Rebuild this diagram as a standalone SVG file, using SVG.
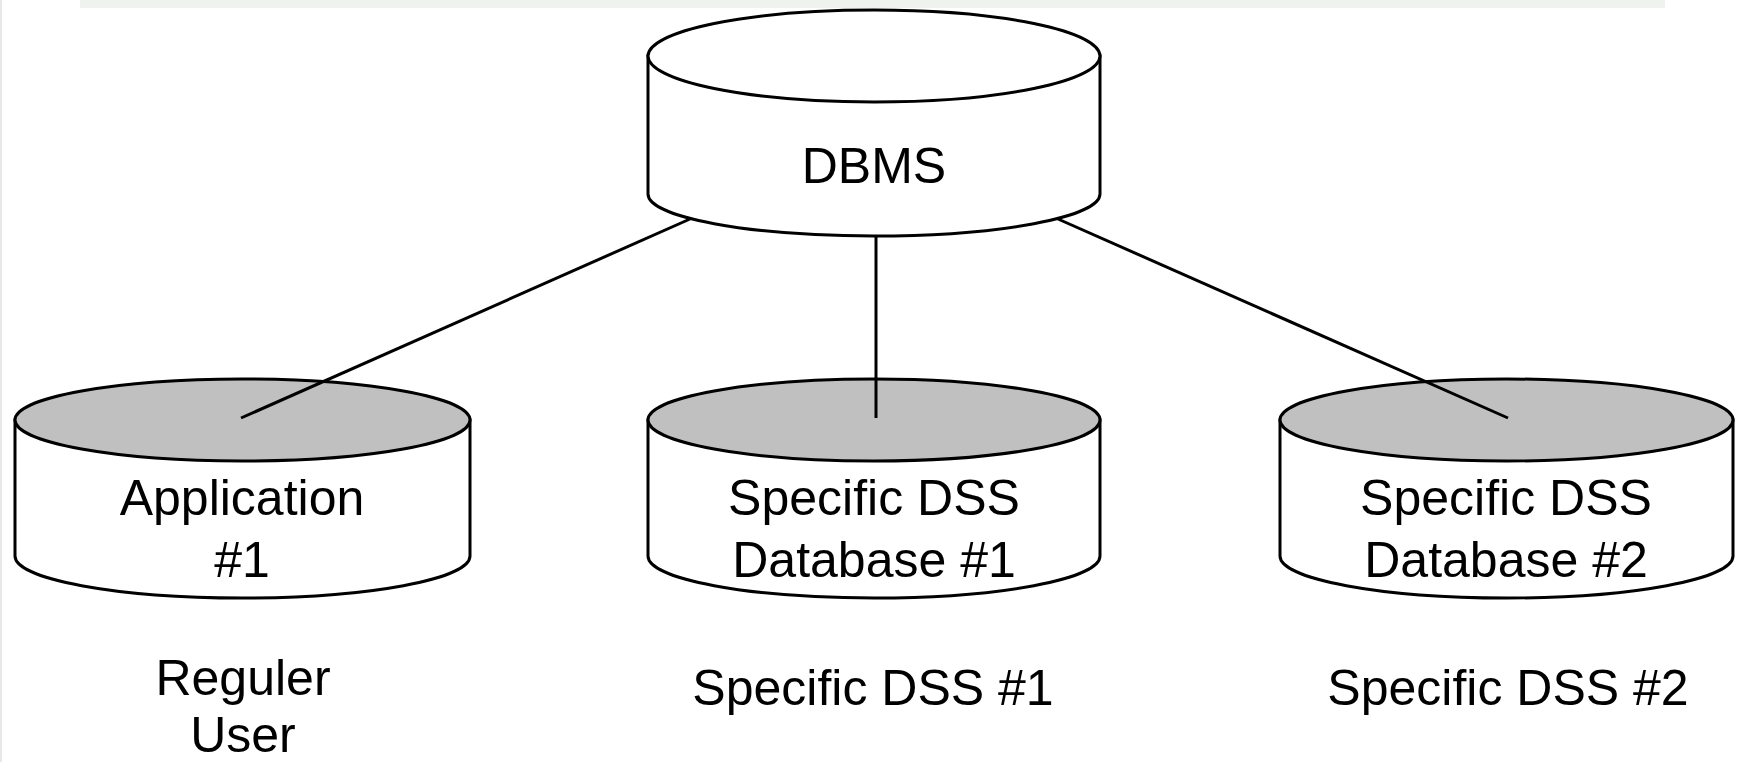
<svg xmlns="http://www.w3.org/2000/svg" width="1740" height="762" viewBox="0 0 1740 762">
<style>
.edge{stroke:#000;stroke-width:3;fill:none;stroke-linecap:butt}
.body{fill:#fff;stroke:#000;stroke-width:3}
.top-white{fill:#fff;stroke:#000;stroke-width:3}
.top-grey{fill:#c0c0c0;stroke:#000;stroke-width:3}
.lbl{font-family:"Liberation Sans",Arial,sans-serif;font-size:50px;fill:#000;text-anchor:middle}
</style>
<rect x="0" y="0" width="1740" height="762" fill="#fff"/>
<rect x="80" y="0" width="1585" height="8" fill="#eef3ee"/>
<rect x="0" y="0" width="2" height="762" fill="#e8e8e8"/>

<g id="dbms">
  <path class="body" d="M648,56 L648,194 A226,42 0 0 0 1100,194 L1100,56 Z"/>
  <ellipse class="top-white" cx="874" cy="56" rx="226" ry="46"/>
  <text class="lbl" x="874" y="183">DBMS</text>
</g>

<g id="app1">
  <path class="body" d="M15,420 L15,556 A227.5,42 0 0 0 470,556 L470,420 Z"/>
  <ellipse class="top-grey" cx="242.5" cy="420" rx="227.5" ry="41"/>
  <text class="lbl" x="242" y="515">Application</text>
  <text class="lbl" x="242" y="577">#1</text>
</g>

<g id="dssdb1">
  <path class="body" d="M648,420 L648,556 A226,42 0 0 0 1100,556 L1100,420 Z"/>
  <ellipse class="top-grey" cx="874" cy="420" rx="226" ry="41"/>
  <text class="lbl" x="874" y="515">Specific DSS</text>
  <text class="lbl" x="874" y="577">Database #1</text>
</g>

<g id="dssdb2">
  <path class="body" d="M1280,420 L1280,556 A226.5,42 0 0 0 1733,556 L1733,420 Z"/>
  <ellipse class="top-grey" cx="1506.5" cy="420" rx="226.5" ry="41"/>
  <text class="lbl" x="1506" y="515">Specific DSS</text>
  <text class="lbl" x="1506" y="577">Database #2</text>
</g>

<g id="connectors">
  <line class="edge" x1="690" y1="219" x2="241" y2="418"/>
  <line class="edge" x1="876" y1="236" x2="876" y2="418"/>
  <line class="edge" x1="1058" y1="219" x2="1508" y2="418"/>
</g>

<g id="label-regular-user">
  <text class="lbl" x="243" y="695">Reguler</text>
  <text class="lbl" x="243" y="752">User</text>
</g>
<g id="label-dss1">
  <text class="lbl" x="873" y="705">Specific DSS #1</text>
</g>
<g id="label-dss2">
  <text class="lbl" x="1508" y="705">Specific DSS #2</text>
</g>
</svg>
